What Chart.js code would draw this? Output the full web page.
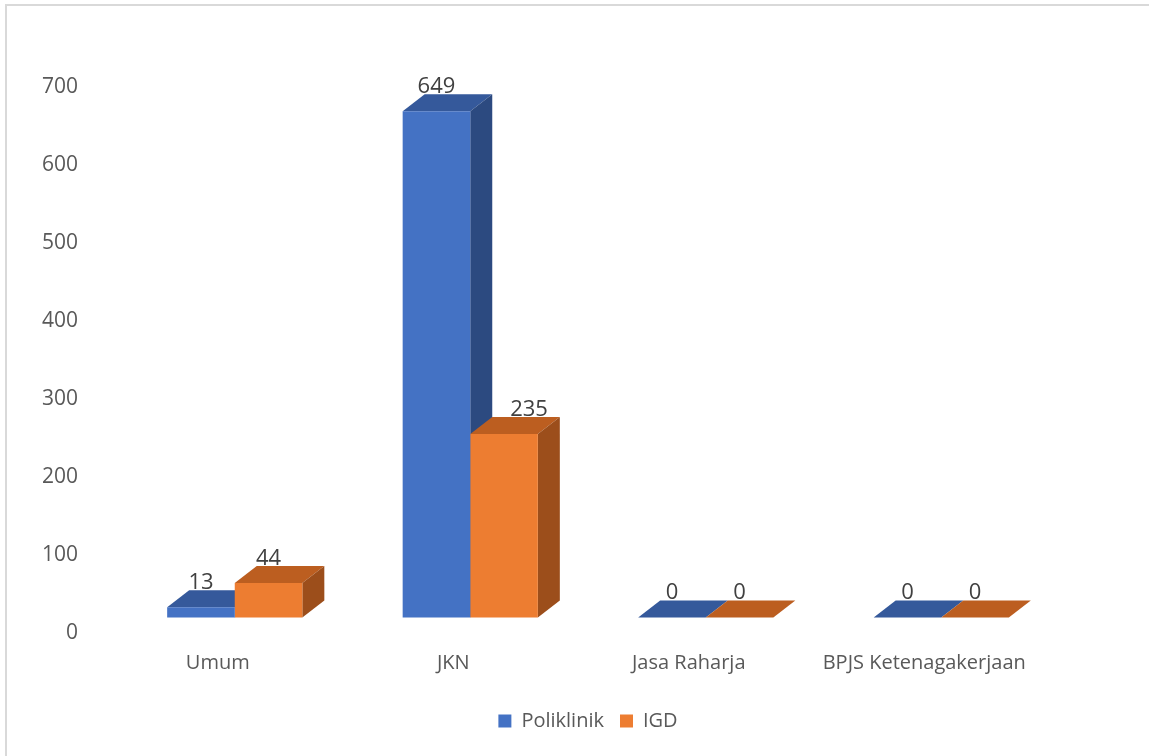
<!DOCTYPE html>
<html>
<head>
<meta charset="utf-8">
<script src="https://cdn.jsdelivr.net/npm/chart.js@4/dist/chart.umd.min.js"></script>
<style>
  html, body { margin: 0; padding: 0; background: #fff; overflow: hidden; }
  #frame { position: absolute; left: 5px; top: 4px; width: 1300px; height: 900px; border: 2px solid #d9d9d9; }
  #wrap { position: absolute; left: 0; top: 0; width: 1149px; height: 756px; }
</style>
</head>
<body>
<div id="frame"></div>
<div id="wrap"><canvas id="chart"></canvas></div>
<script>
const categories = ['Umum', 'JKN', 'Jasa Raharja', 'BPJS Ketenagakerjaan'];
const poliklinik = [13, 649, 0, 0];
const igd = [44, 235, 0, 0];
const yTicks = [0, 100, 200, 300, 400, 500, 600, 700];

const frontColors = ['#4472c4', '#ed7d31'];
const topColors = ['#35599b', '#bc5e20'];
const sideColors = ['#2c4a80', '#9c4e1b'];
const DX = 22, DY = 17;

// draws top + side faces behind the (chart.js drawn) front faces, then the value labels
const bar3d = {
    id: 'bar3d',
    beforeDatasetsDraw(chart) {
        const ctx = chart.ctx;
        ctx.save();
        for (let i = 0; i < chart.data.labels.length; i++) {
            chart.data.datasets.forEach((ds, d) => {
                const bar = chart.getDatasetMeta(d).data[i];
                const l = bar.x - bar.width / 2, r = bar.x + bar.width / 2;
                const t = bar.y, b = bar.base;
                ctx.fillStyle = topColors[d];
                ctx.beginPath();
                ctx.moveTo(l, t);
                ctx.lineTo(l + DX, t - DY);
                ctx.lineTo(r + DX, t - DY);
                ctx.lineTo(r, t);
                ctx.closePath();
                ctx.fill();
                ctx.fillStyle = sideColors[d];
                ctx.beginPath();
                ctx.moveTo(r, t);
                ctx.lineTo(r + DX, t - DY);
                ctx.lineTo(r + DX, b - DY);
                ctx.lineTo(r, b);
                ctx.closePath();
                ctx.fill();
            });
        }
        ctx.restore();
    },
    afterDatasetsDraw(chart) {
        const ctx = chart.ctx;
        ctx.save();
        ctx.font = '22px "Open Sans"';
        ctx.fillStyle = '#404040';
        ctx.textAlign = 'center';
        ctx.textBaseline = 'alphabetic';
        chart.data.datasets.forEach((ds, d) => {
            chart.getDatasetMeta(d).data.forEach((bar, i) => {
                let x = bar.x;
                // move label aside when the previous (taller) bar's side face is in the way
                if (d > 0) {
                    const prev = chart.getDatasetMeta(d - 1).data[i];
                    if (prev.y < bar.y - DY - 10) x += DX + 3;
                }
                ctx.fillText(ds.data[i], x, bar.y - DY - 1);
            });
        });
        ctx.restore();
    }
};

new Chart(document.getElementById('chart'), {
    type: 'bar',
    data: {
        labels: categories,
        datasets: [
            { label: 'Poliklinik', data: poliklinik, backgroundColor: frontColors[0], yAxisID: 'yb' },
            { label: 'IGD', data: igd, backgroundColor: frontColors[1], yAxisID: 'yb' }
        ]
    },
    options: {
        responsive: true,
        maintainAspectRatio: false,
        animation: false,
        categoryPercentage: 0.574,
        barPercentage: 1.0,
        layout: { padding: { top: 87, right: 90, left: 0, bottom: 15 } },
        scales: {
            x: {
                grid: { display: false, drawTicks: false },
                border: { display: false },
                ticks: { color: '#595959', font: { family: 'Open Sans', size: 20 }, padding: 18, labelOffset: -17, maxRotation: 0 },
                afterFit: (scale) => { scale.height = 62; }
            },
            y: {
                min: 0,
                max: 700,
                grid: { display: false, drawTicks: false },
                border: { display: false },
                afterBuildTicks: (scale) => { scale.ticks = yTicks.map(v => ({ value: v })); },
                ticks: { color: '#595959', font: { family: 'Open Sans', size: 21 }, padding: 39 },
                afterFit: (scale) => { scale.width = 117; }
            },
            // hidden value axis for the front faces, same px/unit but with the floor raised by the depth
            yb: { display: false, min: -20, max: 680 }
        },
        plugins: {
            legend: {
                position: 'bottom',
                fullSize: false,
                labels: { color: '#595959', font: { family: 'Open Sans', size: 20 }, boxWidth: 13, boxHeight: 13, padding: 16 }
            },
            tooltip: { enabled: false }
        }
    },
    plugins: [bar3d]
});
</script>
</body>
</html>
